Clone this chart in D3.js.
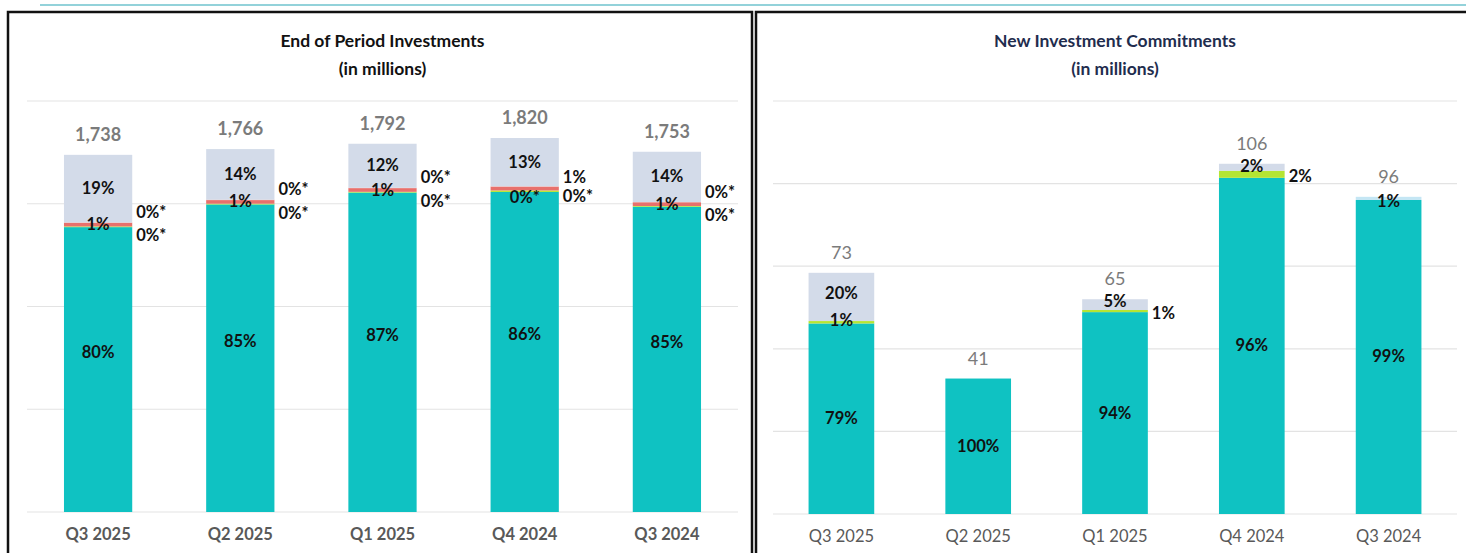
<!DOCTYPE html>
<html>
<head>
<meta charset="utf-8">
<script src="https://cdn.jsdelivr.net/npm/d3@7"></script>
<style>
  body { margin: 0; background: #fff; }
  svg { display: block; font-family: Lato, "Open Sans", sans-serif; }
</style>
</head>
<body>
<div id="chart"></div>
<script>
// ---- data ----
const quarters = ["Q3 2025", "Q2 2025", "Q1 2025", "Q4 2024", "Q3 2024"];

// End of Period Investments
const eopTotals = [1738, 1766, 1792, 1820, 1753];
const eopTicks = [0, 500, 1000, 1500, 2000];
const eopTeal  = [80, 85, 87, 86, 85];
const eopGreen = [0.2, 0.2, 0.2, 0.4, 0.2];
const eopRed   = [1, 1, 1, 1, 1];
const eopOther = [0.1, 0.1, 0.1, 0.1, 0.1];
const eopGrey  = [19, 14, 12, 13, 14];
const eopGreenLbl = ["0%*", "0%*", "0%*", "0%*", "0%*"];
const eopRedLbl   = ["1%", "1%", "1%", "1%", "1%"];
const eopOtherLbl = ["0%*", "0%*", "0%*", "0%*", "0%*"];
// which small segment carries its label inside the bar
const eopInside = ["red", "red", "red", "green", "red"];

// New Investment Commitments
const nicTotals = [73, 41, 65, 106, 96];
const nicTicks = [0, 25, 50, 75, 100, 125];
const nicTeal  = [79, 100, 94, 96, 99];
const nicGreen = [1, 0, 1, 2, 0];
const nicGrey  = [20, 0, 5, 2, 0];
const nicBlue  = [0, 0, 0, 0, 1];
const nicGreenOutside = [false, false, true, true, false];

const colors = {
  teal: "#0fc2c2", green: "#b5e533", red: "#e8706c", other: "#ee8a86",
  grey: "#d3dbe9", blue: "#c4e6f4"
};

const W = 1466, H = 553;
const svg = d3.select("#chart").append("svg").attr("width", W).attr("height", H);

// top accent line
svg.append("line").attr("x1", 40).attr("x2", W).attr("y1", 5).attr("y2", 5)
  .attr("stroke", "#93d2da").attr("stroke-width", 2);

// panel frames
svg.append("rect").attr("x", 8).attr("y", 12).attr("width", 744).attr("height", 560)
  .attr("fill", "none").attr("stroke", "#111").attr("stroke-width", 2.5);
svg.append("rect").attr("x", 756).attr("y", 12).attr("width", 720).attr("height", 560)
  .attr("fill", "none").attr("stroke", "#111").attr("stroke-width", 2.5);

function drawPanel(cfg) {
  const g = svg.append("g");
  const x = d3.scaleBand().domain(quarters).range([cfg.x0, cfg.x1]).paddingInner(0.52).paddingOuter(0.26);
  const y = d3.scaleLinear().domain([0, cfg.ticks[cfg.ticks.length - 1]]).range([cfg.base, cfg.top]);

  // title
  const cx = (cfg.x0 + cfg.x1) / 2;
  g.append("text").attr("x", cx).attr("y", 47).attr("text-anchor", "middle")
    .attr("font-size", 17.5).attr("font-weight", 700).attr("fill", cfg.titleColor).text(cfg.title);
  g.append("text").attr("x", cx).attr("y", 75).attr("text-anchor", "middle")
    .attr("font-size", 17.5).attr("font-weight", 700).attr("fill", cfg.titleColor).text("(in millions)");

  // gridlines
  g.selectAll(".grid").data(cfg.ticks).enter().append("line")
    .attr("x1", cfg.x0).attr("x2", cfg.x1)
    .attr("y1", d => y(d)).attr("y2", d => y(d))
    .attr("stroke", "#e3e3e3").attr("stroke-width", 1.2);

  // stacked data
  const rows = quarters.map((q, i) => {
    const r = { q: q, i: i };
    const sum = d3.sum(cfg.keys, k => cfg.series[k][i]);
    cfg.keys.forEach(k => { r[k] = cfg.series[k][i] / sum * cfg.totals[i]; });
    return r;
  });
  const stack = d3.stack().keys(cfg.keys)(rows);

  stack.forEach(layer => {
    g.selectAll(null).data(layer).enter().append("rect")
      .attr("x", d => x(d.data.q))
      .attr("width", x.bandwidth())
      .attr("y", d => y(d[1]))
      .attr("height", d => Math.max(0, y(d[0]) - y(d[1])))
      .attr("fill", colors[layer.key]);
  });

  // segment labels
  stack.forEach(layer => {
    layer.forEach((d, i) => {
      const lbl = cfg.label(layer.key, i);
      if (!lbl) return;
      const yc = (y(d[0]) + y(d[1])) / 2;
      if (lbl.out) {
        g.append("text").attr("x", x(d.data.q) + x.bandwidth() + 4)
          .attr("y", yc + lbl.dy + 5.5).attr("font-size", 16.5).attr("font-weight", 700)
          .attr("fill", "#111").text(lbl.text);
      } else {
        g.append("text").attr("x", x(d.data.q) + x.bandwidth() / 2)
          .attr("y", yc + (lbl.dy || 0) + 5.5).attr("text-anchor", "middle")
          .attr("font-size", 16.5).attr("font-weight", 700).attr("fill", "#111").text(lbl.text);
      }
    });
  });

  // totals
  g.selectAll(".tot").data(rows).enter().append("text")
    .attr("x", d => x(d.q) + x.bandwidth() / 2)
    .attr("y", d => y(cfg.totals[d.i]) - 14)
    .attr("text-anchor", "middle").attr("font-size", 18).attr("font-weight", cfg.totWeight)
    .attr("fill", "#7b7b7b")
    .text(d => d3.format(",")(cfg.totals[d.i]));

  // category axis
  const ax = g.append("g").attr("transform", `translate(0,${cfg.base})`)
    .call(d3.axisBottom(x).tickSize(0).tickPadding(16));
  ax.select(".domain").remove();
  ax.selectAll("text").attr("font-size", 16.5).attr("font-weight", cfg.catWeight)
    .attr("fill", "#595959").attr("font-family", "Lato, sans-serif");
}

const pct = v => Math.round(v) + "%";

drawPanel({
  title: "End of Period Investments", titleColor: "#111",
  x0: 27, x1: 738, top: 101, base: 512, ticks: eopTicks, totals: eopTotals,
  keys: ["teal", "green", "red", "other", "grey"],
  series: { teal: eopTeal, green: eopGreen, red: eopRed, other: eopOther, grey: eopGrey },
  totWeight: 700, catWeight: 700,
  label: (k, i) => {
    if (k === "teal") return { text: pct(eopTeal[i]), dy: -17 };
    if (k === "grey") return { text: pct(eopGrey[i]) };
    const txt = { green: eopGreenLbl, red: eopRedLbl, other: eopOtherLbl }[k][i];
    if (k === eopInside[i]) return { text: txt, dy: k === "green" ? 6 : 0 };
    // two outside labels stacked around the junction
    const outs = ["green", "red", "other"].filter(s => s !== eopInside[i]);
    const pos = outs.indexOf(k);
    const order = eopInside[i] === "green" ? [-9, 12] : [11, -8];
    return { text: txt, out: true, dy: order[pos] - 2 };
  }
});

drawPanel({
  title: "New Investment Commitments", titleColor: "#1f2d4e",
  x0: 773, x1: 1457, top: 101, base: 514, ticks: nicTicks, totals: nicTotals,
  keys: ["teal", "green", "grey", "blue"],
  series: { teal: nicTeal, green: nicGreen, grey: nicGrey, blue: nicBlue },
  totWeight: 400, catWeight: 400,
  label: (k, i) => {
    if (k === "teal") return { text: pct(nicTeal[i]) };
    if (k === "green" && nicGreen[i] > 0)
      return nicGreenOutside[i] ? { text: pct(nicGreen[i]), out: true, dy: 2 } : { text: pct(nicGreen[i]), dy: -2 };
    if (k === "grey" && nicGrey[i] > 0) return { text: pct(nicGrey[i]), dy: nicGrey[i] < 3 ? -1 : -3 };
    if (k === "blue" && nicBlue[i] > 0) return { text: pct(nicBlue[i]), dy: 3 };
    return null;
  }
});
</script>
</body>
</html>
